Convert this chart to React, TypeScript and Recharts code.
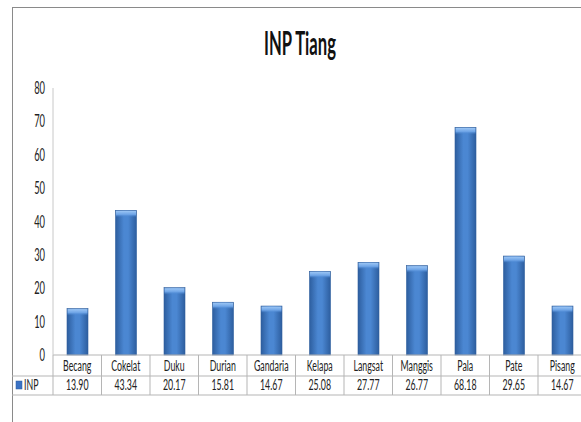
import { BarChart, Bar, XAxis, YAxis } from 'recharts'

const categories = ['Becang', 'Cokelat', 'Duku', 'Durian', 'Gandaria', 'Kelapa', 'Langsat', 'Manggis', 'Pala', 'Pate', 'Pisang']
const inp = [13.9, 43.34, 20.17, 15.81, 14.67, 25.08, 27.77, 26.77, 68.18, 29.65, 14.67]
const yTicks = [0, 10, 20, 30, 40, 50, 60, 70, 80]
const seriesName = 'INP'
const title = 'INP Tiang'

const data = categories.map((name, i) => ({ name, inp: inp[i] }))

const W = 610
const H = 430
const PLOT_LEFT = 53
const PLOT_RIGHT = 586.5
const BAND = (PLOT_RIGHT - PLOT_LEFT) / categories.length
const AXIS_Y = 355
const ROW1 = 376
const ROW2 = 395
const FONT = 'Lato, "Open Sans", sans-serif'
const SQUEEZE = 0.55
const GRID = '#b5b5b5'

function TableTick(props: any) {
  const { x, payload } = props
  const i = payload.index
  return (
    <g>
      <text transform={`translate(${x},${ROW1 - 5}) scale(${SQUEEZE},1)`} textAnchor="middle" fontSize={16} fontFamily={FONT} fill="#222">
        {payload.value}
      </text>
      <text transform={`translate(${x},${ROW2 - 5}) scale(${SQUEEZE},1)`} textAnchor="middle" fontSize={16} fontFamily={FONT} fill="#222">
        {inp[i].toFixed(2)}
      </text>
      <line x1={x + BAND / 2} x2={x + BAND / 2} y1={AXIS_Y} y2={ROW2} stroke={GRID} />
    </g>
  )
}

function YTick(props: any) {
  const { x, y, payload } = props
  return (
    <text transform={`translate(${x},${y + 6}) scale(${SQUEEZE},1)`} textAnchor="end" fontSize={17} fontFamily={FONT} fill="#222">
      {payload.value}
    </text>
  )
}

function GlossyBar(props: any) {
  const { x, y, width, height } = props
  if (!height || height <= 0) return null
  return (
    <g>
      <rect x={x} y={y} width={width} height={height} fill="url(#barBody)" stroke="#2f5f9f" strokeWidth={0.6} />
      <rect x={x + 0.5} y={y + 0.5} width={width - 1} height={Math.min(6, height)} fill="url(#barCap)" />
    </g>
  )
}

export default function App() {
  return (
    <div style={{ position: 'absolute', left: 0, top: 0, width: 581, height: 422, overflow: 'hidden', background: '#fff' }}>
      <div style={{ position: 'absolute', left: 12, top: 7, width: 700, height: 500, border: '1px solid #8a8a8a' }} />
      <div style={{ position: 'absolute', left: 0, top: 0 }}>
        <BarChart width={W} height={H} data={data} margin={{ top: 88, right: W - PLOT_RIGHT, bottom: H - AXIS_Y - 40, left: 0 }} barSize={21}>
          <defs>
            <linearGradient id="barBody" x1="0" y1="0" x2="1" y2="0">
              <stop offset="0%" stopColor="#2d5e9f" />
              <stop offset="40%" stopColor="#4b87d2" />
              <stop offset="60%" stopColor="#4b87d2" />
              <stop offset="100%" stopColor="#2d5e9f" />
            </linearGradient>
            <linearGradient id="barCap" x1="0" y1="0" x2="0" y2="1">
              <stop offset="0%" stopColor="#9cc6f5" />
              <stop offset="60%" stopColor="#6ea4e6" />
              <stop offset="100%" stopColor="#4b87d2" stopOpacity={0.2} />
            </linearGradient>
          </defs>
          <text transform={`translate(300,55) scale(0.52,1)`} textAnchor="middle" fontSize={32} fontWeight={700} fontFamily={FONT} fill="#111">
            {title}
          </text>
          <line x1={12} x2={W} y1={ROW1} y2={ROW1} stroke={GRID} />
          <line x1={12} x2={W} y1={ROW2} y2={ROW2} stroke={GRID} />
          <line x1={PLOT_LEFT} x2={PLOT_LEFT} y1={AXIS_Y} y2={ROW2} stroke={GRID} />
          <rect x={16} y={381} width={6} height={8} fill="#3a72c4" stroke="#2c5c9c" strokeWidth={0.5} />
          <text transform={`translate(24,${ROW2 - 5}) scale(${SQUEEZE},1)`} fontSize={16} fontFamily={FONT} fill="#222">
            {seriesName}
          </text>
          <XAxis dataKey="name" height={40} interval={0} axisLine={{ stroke: GRID }} tickLine={false} tick={<TableTick />} />
          <YAxis width={53} domain={[0, 80]} ticks={yTicks} axisLine={{ stroke: '#c8c8c8' }} tickLine={false} tick={<YTick />} />
          <Bar dataKey="inp" name={seriesName} shape={<GlossyBar />} isAnimationActive={false} />
        </BarChart>
      </div>
    </div>
  )
}
